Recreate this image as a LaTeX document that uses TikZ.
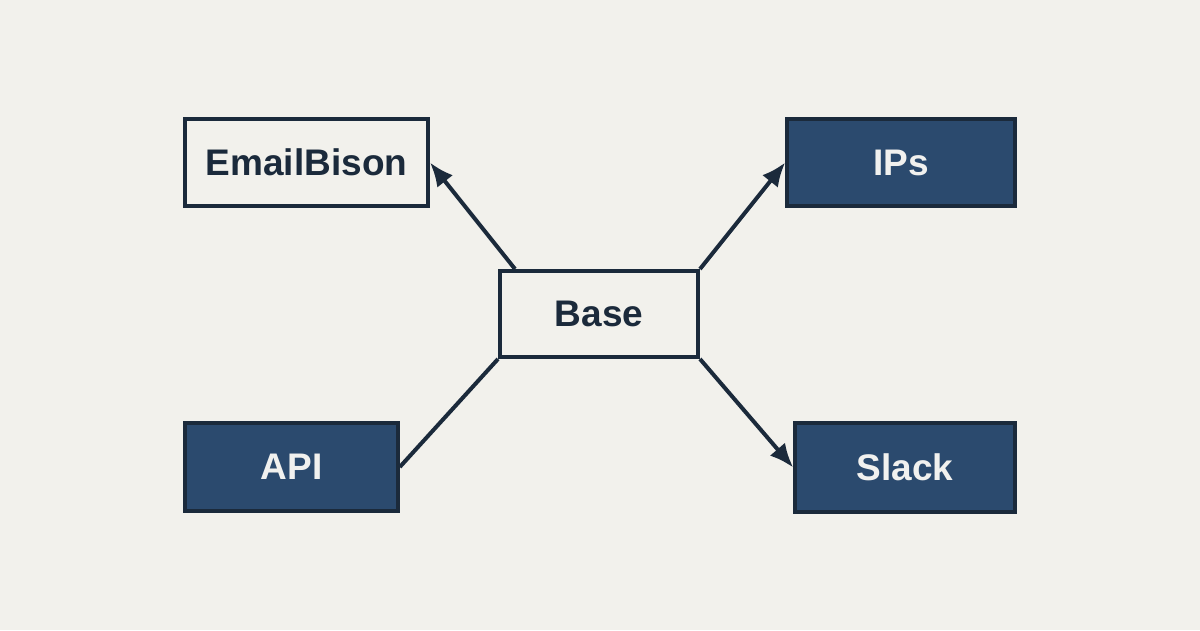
\documentclass[tikz,border=0pt]{standalone}
\usepackage{fontspec}
\setmainfont{Liberation Sans}
\usetikzlibrary{arrows.meta,calc}
\definecolor{bgc}{HTML}{F2F1EC}
\definecolor{ink}{HTML}{1B2A3B}
\definecolor{navy}{HTML}{2B4A6E}
\definecolor{lighttext}{HTML}{F1F1EF}
\tikzset{
  lightbox/.style={draw=ink, line width=4pt, fill=bgc, text=ink, inner sep=0pt, font=\fontsize{37}{42}\selectfont\bfseries},
  darkbox/.style={draw=ink, line width=3.6pt, fill=navy, text=lighttext, inner sep=0pt, font=\fontsize{37}{42}\selectfont\bfseries},
  conn/.style={draw=ink, line width=4pt},
  arr/.style={conn, -{Latex[length=24pt,width=20pt]}}
}
\begin{document}
\begin{tikzpicture}[x=1pt,y=-1pt]
\useasboundingbox[fill=bgc] (0,0) rectangle (1200,630);
\node[lightbox, minimum width=243pt, minimum height=87pt] (email) at (306.5,162.5) {EmailBison};
\node[darkbox, minimum width=228pt, minimum height=87pt] (ips) at (901,162.5) {IPs};
\node[lightbox, minimum width=198pt, minimum height=86pt] (base) at (599,314) {Base};
\node[darkbox, minimum width=213pt, minimum height=88pt] (api) at (291.5,467) {API};
\node[darkbox, minimum width=220pt, minimum height=89pt] (slack) at (905,467.5) {Slack};
\coordinate (btl) at ($(base.north west)+(17,0)$);
\draw[arr] (btl) -- (email.east);
\draw[arr] (base.north east) -- (ips.west);
\draw[conn] (base.south west) -- (api.east);
\draw[arr] (base.south east) -- (slack.west);
\end{tikzpicture}
\end{document}
